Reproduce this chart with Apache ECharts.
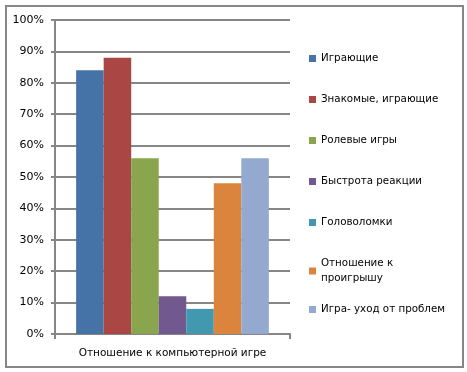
<!DOCTYPE html>
<html><head><meta charset="utf-8">
<script src="https://cdn.jsdelivr.net/npm/echarts@6/dist/echarts.min.js"></script>
<style>html,body{margin:0;padding:0;background:#fff}#c{width:467px;height:372px}</style>
</head><body><div id="c"></div>
<script>
const categories = ['Отношение к компьютерной игре'];
const seriesNames = ['Играющие','Знакомые, играющие','Ролевые игры','Быстрота реакции','Головоломки','Отношение к проигрышу','Игра- уход от проблем'];
const seriesValues = [84, 88, 56, 12, 8, 48, 56];
const colors = ['#4572A7','#AA4643','#89A54E','#71588F','#4198AF','#DB843D','#93A9CF'];
const yTicks = [0,10,20,30,40,50,60,70,80,90,100];

const chart = echarts.init(document.getElementById('c'), null, {renderer:'canvas'});
const font = 'DejaVu Sans';
const legendBase = {
  orient:'vertical',left:309,padding:0,itemWidth:7,itemHeight:7,itemGap:26,
  icon:'rect',
  textStyle:{fontFamily:font,fontSize:10.3,color:'#000',padding:[0,0,0,0],lineHeight:15},
  formatter:function(n){return n==='Отношение к проигрышу'?'Отношение к\nпроигрышу':n;}
};
chart.setOption({
  animation:false,
  textStyle:{fontFamily:font},
  graphic:[{type:'rect',shape:{x:6,y:6,width:457,height:361},style:{fill:'none',stroke:'#868686',lineWidth:2},silent:true}],
  grid:{left:55,right:177,top:20,bottom:38,containLabel:false},
  legend:[
    Object.assign({}, legendBase, {top:51, data:seriesNames.slice(0,6)}),
    Object.assign({}, legendBase, {top:302, data:seriesNames.slice(6)})
  ],
  xAxis:{type:'category',data:categories,
    axisLine:{lineStyle:{color:'#868686',width:2}},
    axisTick:{show:true,length:5,lineStyle:{color:'#868686',width:2}},
    axisLabel:{color:'#000',fontSize:10.5,fontFamily:font,margin:14}
  },
  yAxis:{type:'value',min:0,max:100,interval:10,
    axisLine:{show:true,lineStyle:{color:'#868686',width:2}},
    axisTick:{show:true,length:4,lineStyle:{color:'#868686',width:2}},
    splitLine:{lineStyle:{color:'#868686',width:2}},
    axisLabel:{color:'#000',fontSize:11,fontFamily:font,margin:11,
      formatter:function(v){return yTicks.indexOf(v)>=0? v+'%':'';}}
  },
  series: seriesNames.map(function(n,i){return {
    name:n,type:'bar',data:[seriesValues[i]],barGap:'0%',barCategoryGap:'18%',
    itemStyle:{color:colors[i]}
  };})
});
</script></body></html>
